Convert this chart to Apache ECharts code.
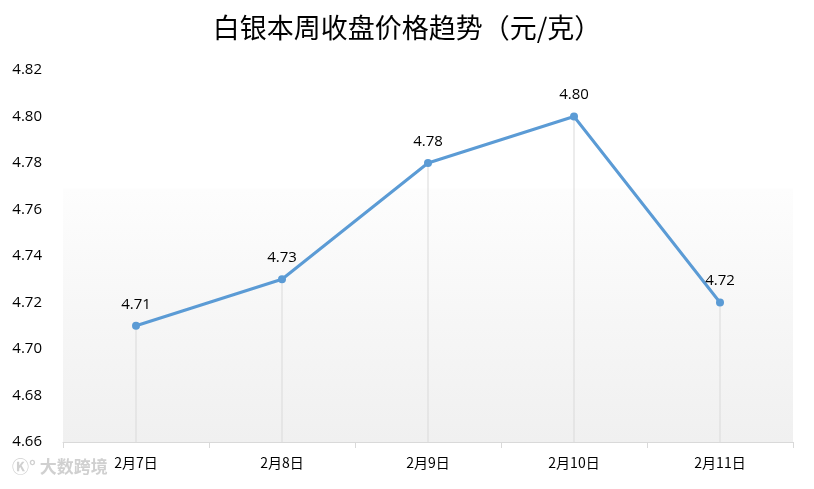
<!DOCTYPE html>
<html>
<head>
<meta charset="utf-8">
<script src="https://cdn.jsdelivr.net/npm/echarts@6/dist/echarts.min.js"></script>
<style>
  html, body { margin: 0; padding: 0; background: #fff; }
  #chart { width: 814px; height: 489px; }
</style>
</head>
<body>
<div id="chart"></div>
<script>
const days = ["2月7日", "2月8日", "2月9日", "2月10日", "2月11日"];
const prices = [4.71, 4.73, 4.78, 4.80, 4.72];
const yMin = 4.66, yMax = 4.82, yStep = 0.02;

const font = "'Noto Sans CJK SC', 'Open Sans', sans-serif";
const chart = echarts.init(document.getElementById("chart"));

chart.setOption({
  animation: false,
  title: {
    text: "白银本周收盘价格趋势（元/克）",
    left: "center",
    top: 9,
    textStyle: { fontSize: 27, fontWeight: "normal", color: "#000", fontFamily: font }
  },
  grid: { left: 63, right: 21, top: 70, bottom: 47 },
  xAxis: {
    type: "category",
    data: days,
    axisLine: { lineStyle: { color: "#d9d9d9" } },
    axisTick: { show: true, length: 6, lineStyle: { color: "#d9d9d9" } },
    axisLabel: { color: "#000", fontSize: 14, margin: 14, fontFamily: font }
  },
  yAxis: {
    type: "value",
    min: yMin,
    max: yMax,
    interval: yStep,
    axisLine: { show: false },
    axisTick: { show: false },
    splitLine: { show: false },
    axisLabel: {
      color: "#000", fontSize: 15, margin: 21, fontFamily: "'Open Sans', sans-serif",
      formatter: v => v.toFixed(2)
    }
  },
  series: [
    {
      type: "bar",
      data: prices,
      barWidth: 1,
      silent: true,
      itemStyle: { color: "#d9d9d9" },
      z: 1,
      markArea: {
        silent: true,
        itemStyle: {
          color: new echarts.graphic.LinearGradient(0, 0, 0, 1, [
            { offset: 0, color: "#fdfdfd" },
            { offset: 1, color: "#f0f0f0" }
          ])
        },
        data: [[{ yAxis: yMin }, { yAxis: 4.769 }]]
      }
    },
    {
      type: "line",
      data: prices,
      symbol: "circle",
      symbolSize: 8,
      z: 3,
      lineStyle: { color: "#5b9bd5", width: 3 },
      itemStyle: { color: "#5b9bd5" },
      label: {
        show: true,
        position: "top",
        distance: 10,
        color: "#000",
        fontSize: 15,
        fontFamily: "'Open Sans', sans-serif",
        formatter: p => p.value.toFixed(2)
      }
    }
  ],
  graphic: [
    {
      type: "text",
      left: 12,
      top: 458,
      style: { text: "Ⓚ° 大数跨境", fill: "#d0d0d0", fontSize: 17, fontWeight: "bold", fontFamily: font }
    }
  ]
});
</script>
</body>
</html>
